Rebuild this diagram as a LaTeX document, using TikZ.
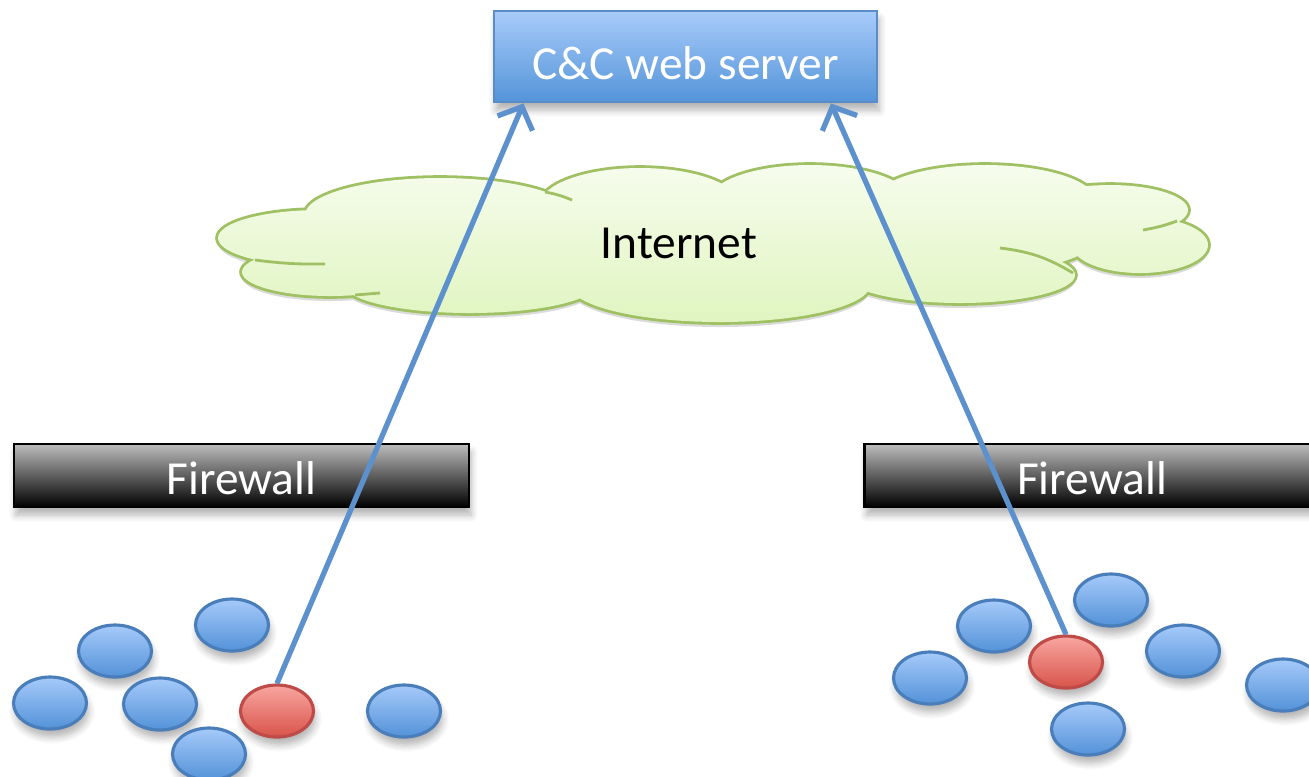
\documentclass[tikz,border=0pt]{standalone}
\usepackage{fontspec}
\setmainfont{Carlito}
\usetikzlibrary{positioning,calc,arrows.meta,shapes.geometric,shadows.blur}

\definecolor{srvtop}{RGB}{168,203,250}
\definecolor{srvbot}{RGB}{84,148,217}
\definecolor{srvline}{RGB}{92,140,200}
\definecolor{nettop}{RGB}{246,252,237}
\definecolor{netbot}{RGB}{224,245,192}
\definecolor{netline}{RGB}{160,192,100}
\definecolor{hosttop}{RGB}{166,202,250}
\definecolor{hostbot}{RGB}{83,146,216}
\definecolor{hostline}{RGB}{74,126,187}
\definecolor{bottop}{RGB}{248,166,160}
\definecolor{botbot}{RGB}{216,84,74}
\definecolor{botline}{RGB}{190,75,72}
\definecolor{linkcol}{RGB}{92,145,205}

% puffs of the internet cloud
\newcommand\netpuffs{
	(3.20,-2.38) ellipse [x radius=1.02, y radius=0.28]
	(3.30,-2.72) ellipse [x radius=0.88, y radius=0.24]
	(4.70,-2.85) ellipse [x radius=1.25, y radius=0.28]
	(7.20,-2.85) ellipse [x radius=1.50, y radius=0.37]
	(9.60,-2.75) ellipse [x radius=1.15, y radius=0.28]
	(11.40,-2.45) ellipse [x radius=0.68, y radius=0.28]
	(11.10,-2.10) ellipse [x radius=0.78, y radius=0.25]
	(9.85,-2.00) ellipse [x radius=1.10, y radius=0.35]
	(8.10,-2.00) ellipse [x radius=1.00, y radius=0.35]
	(6.40,-2.05) ellipse [x radius=1.00, y radius=0.37]
	(4.40,-2.15) ellipse [x radius=1.35, y radius=0.37]
	(7.13,-2.42) ellipse [x radius=3.80, y radius=0.50]
}

\tikzset{font=\fontsize{13.5}{16}\selectfont,
	softshadow/.style={blur shadow={shadow blur steps=6, shadow xshift=0.2mm, shadow yshift=-0.8mm, shadow blur radius=0.7mm, shadow opacity=30}},
	srvbox/.style={draw=srvline, line width=0.8pt, top color=srvtop, bottom color=srvbot, text=white, minimum width=3.83cm, minimum height=0.91cm, text height=0.45cm, text depth=0pt, softshadow},
	fwbox/.style={draw=black, line width=0.8pt, top color=black!26, bottom color=black, text=white, minimum width=4.55cm, minimum height=0.63cm, text height=0.38cm, text depth=0pt, softshadow},
	host/.style={ellipse, draw=hostline, line width=0.9pt, top color=hosttop, bottom color=hostbot, minimum width=0.73cm, minimum height=0.52cm, inner sep=0pt, softshadow},
	bot/.style={host, draw=botline, top color=bottop, bottom color=botbot},
	stub/.style={draw=netline, line width=0.8pt},
	link/.style={draw=linkcol, line width=1.5pt, -{Straight Barb[length=1.8mm,width=3.8mm]}}
}

\begin{document}
\begin{tikzpicture}
	\useasboundingbox (0,0) rectangle (13.09,-7.76);
	\clip (0,0) rectangle (13.09,-7.76);

	% internet cloud: shadow, outline, shading, inner strokes
	\fill[black, opacity=0.14, yshift=-0.05cm] \netpuffs;
	\draw[netline, line width=1.6pt] \netpuffs;
	\path[top color=nettop, bottom color=netbot] \netpuffs;
	\draw[stub] (2.55,-2.60) to[bend right=4] (3.25,-2.64);
	\draw[stub] (3.55,-2.95) to (3.80,-2.93);
	\draw[stub] (5.45,-1.92) to[bend left=6] (5.72,-2.00);
	\draw[stub] (10.00,-2.48) to[bend left=12] (10.73,-2.73);
	\draw[stub] (11.77,-2.21) to[bend left=5] (11.43,-2.30);
	\node (net) at (6.79, -2.43) {Internet};

	\node[srvbox] (srv) at (6.855, -0.565) {C\&C web server};

	\node[fwbox] (fwl) at (2.415, -4.755) {Firewall};
	\node[fwbox] (fwr) at (10.92, -4.755) {Firewall};

	% left network
	\node[host] (hl1) at (0.50, -7.03) {};
	\node[host] (hl2) at (1.15, -6.51) {};
	\node[host] (hl3) at (2.32, -6.25) {};
	\node[host] (hl4) at (1.60, -7.04) {};
	\node[host] (hl5) at (2.09, -7.54) {};
	\node[bot] (botl) at (2.77, -7.11) {};
	\node[host] (hl6) at (4.04, -7.11) {};

	% right network
	\node[host] (hr1) at (9.30, -6.78) {};
	\node[host] (hr2) at (9.94, -6.26) {};
	\node[bot] (botr) at (10.66, -6.62) {};
	\node[host] (hr3) at (11.11, -6.00) {};
	\node[host] (hr4) at (11.83, -6.51) {};
	\node[host] (hr5) at (12.83, -6.85) {};
	\node[host] (hr6) at (10.88, -7.29) {};

	\draw[link] (botl.north) -- ($(srv.south west)!0.08!(srv.south east)$);
	\draw[link] (botr.north) -- ($(srv.south west)!0.877!(srv.south east)$);
\end{tikzpicture}
\end{document}
